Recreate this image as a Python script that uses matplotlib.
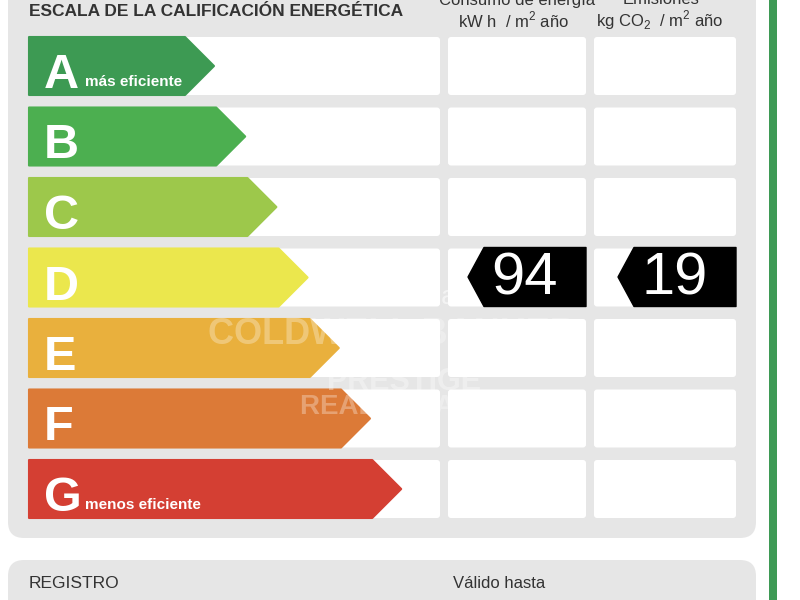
import matplotlib.pyplot as plt
from matplotlib.patches import FancyBboxPatch, Polygon

# datos de la etiqueta
letras = ['A', 'B', 'C', 'D', 'E', 'F', 'G']
colores = ['#3d9a53', '#4caf50', '#9dc84b', '#ebe74d', '#e9b03d', '#dc7a37', '#d43f33']
subtitulos = {'A': 'más eficiente', 'G': 'menos eficiente'}
calificacion = 'D'
consumo = 94
emisiones = 19

titulo = 'ESCALA DE LA CALIFICACIÓN ENERGÉTICA'
col_consumo = ['Consumo de energía', 'kW h  / m$^2$ año']
col_emisiones = ['Emisiones', 'kg CO$_2$  / m$^2$ año']

plt.rcParams['font.family'] = ['Liberation Sans', 'DejaVu Sans']
plt.rcParams['mathtext.fontset'] = 'custom'
plt.rcParams['mathtext.rm'] = 'Liberation Sans'

fig = plt.figure(figsize=(8, 6), dpi=100)
ax = fig.add_axes([0, 0, 1, 1])
ax.set_xlim(0, 800)
ax.set_ylim(600, 0)
ax.axis('off')

gris = '#e6e6e6'
texto = '#333333'
# paneles grises
ax.add_patch(FancyBboxPatch((8, -30), 748, 568, boxstyle='round,pad=0,rounding_size=16',
                            fc=gris, ec='none'))
ax.add_patch(FancyBboxPatch((8, 560), 748, 80, boxstyle='round,pad=0,rounding_size=16',
                            fc=gris, ec='none'))
# barra verde derecha
ax.add_patch(plt.Rectangle((769, 0), 8, 600, fc='#3e9a55', ec='none'))

# cabecera
ax.text(29, 12, titulo, fontsize=12.5, fontweight='bold', color=texto, ha='left', va='center')
ax.text(517, 0, col_consumo[0], fontsize=12, color=texto, ha='center', va='center')
ax.text(514, 20, col_consumo[1], fontsize=12, color=texto, ha='center', va='center')
ax.text(661, 0, col_emisiones[0], fontsize=12, color=texto, ha='center', va='center')
ax.text(660, 20, col_emisiones[1], fontsize=12, color=texto, ha='center', va='center')

alto = 58
paso = 70.5
x0 = 29
for i, (letra, color) in enumerate(zip(letras, colores)):
    top = 37 + i * paso
    bot = top + alto
    mid = top + alto / 2
    # celdas blancas
    for cx, cw in [(29, 411), (448, 138), (594, 142)]:
        ax.add_patch(FancyBboxPatch((cx, top), cw, alto, boxstyle='round,pad=0,rounding_size=3',
                                    fc='white', ec='none'))
    # flecha de color
    punta = 214 + i * 31.2
    cuerpo = punta - alto / 2
    ax.add_patch(Polygon([(x0, top), (cuerpo, top), (punta, mid), (cuerpo, bot), (x0, bot)],
                         closed=True, fc=color, ec=color, lw=1.5, joinstyle='round'))
    ax.text(44, bot - 7, letra, fontsize=35, fontweight='bold', color='white',
            ha='left', va='baseline')
    if letra in subtitulos:
        ax.text(85, bot - 9, subtitulos[letra], fontsize=11, fontweight='bold', color='white',
                ha='left', va='baseline')

# indicadores negros
fila = letras.index(calificacion)
top = 37 + fila * paso - 1
bot = top + alto + 1
mid = (top + bot) / 2
for valor, (tip, right) in [(consumo, (468, 586)), (emisiones, (618, 736))]:
    ax.add_patch(Polygon([(tip, mid), (tip + 16, top), (right, top), (right, bot), (tip + 16, bot)],
                         closed=True, fc='black', ec='black', lw=1, joinstyle='round'))
    ax.text((tip + 16 + right) / 2 - 10, mid + 2, str(valor), fontsize=43, color='white',
            ha='center', va='center')

# marcas de agua
ax.text(400, 297, 'habitaclia', fontsize=19, color='white', alpha=0.55, ha='center', va='center')
ax.text(208, 335, 'COLDWELL BANKER', fontsize=26, fontweight='bold', color='white', alpha=0.3,
        ha='left', va='center')
ax.text(327, 382, 'PRESTIGE', fontsize=22, fontweight='bold', color='white', alpha=0.35,
        ha='left', va='center')
ax.text(300, 407, 'REAL ESTATE', fontsize=20, fontweight='bold', color='white', alpha=0.3,
        ha='left', va='center')

# panel inferior
ax.text(29, 584, 'REGISTRO', fontsize=12.5, color=texto, ha='left', va='center')
ax.text(453, 584, 'Válido hasta', fontsize=12, color=texto, ha='left', va='center')

fig.savefig('out.png', dpi=100)
